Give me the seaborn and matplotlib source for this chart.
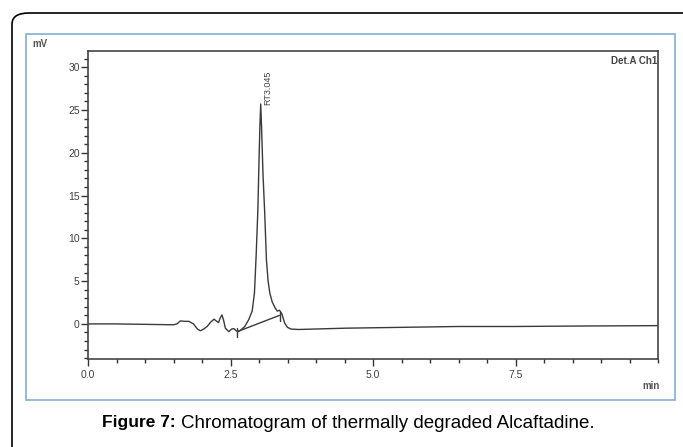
import pandas as pd
import matplotlib.pyplot as plt
import seaborn as sns
from matplotlib.patches import FancyBboxPatch, Rectangle
from matplotlib.ticker import MultipleLocator

# chromatogram trace (retention time in min, signal in mV)
rt_min = [0.0, 0.5, 1.0, 1.5, 1.56, 1.62, 1.70, 1.77, 1.85, 1.92, 1.97, 2.03, 2.09,
          2.15, 2.21, 2.26, 2.29, 2.32, 2.35, 2.38, 2.41, 2.47, 2.52, 2.56, 2.60,
          2.64, 2.70, 2.75, 2.82, 2.88, 2.92, 2.95, 2.98, 3.00, 3.015, 3.03, 3.045,
          3.07, 3.10, 3.13, 3.16, 3.19, 3.23, 3.28, 3.32, 3.36, 3.40, 3.45, 3.50,
          3.56, 3.70, 4.5, 5.5, 6.5, 7.5, 8.5, 10.0]
signal_mv = [0.0, 0.0, -0.05, -0.1, 0.0, 0.35, 0.3, 0.3, 0.0, -0.6, -0.8, -0.6, -0.3,
             0.2, 0.55, 0.3, 0.15, 0.7, 1.05, 0.4, -0.5, -0.9, -0.6, -0.55, -0.8,
             -0.9, -0.6, -0.3, 0.5, 1.5, 3.6, 8.0, 13.3, 19.0, 23.0, 25.7, 23.0,
             17.5, 13.0, 7.5, 5.0, 3.6, 2.6, 1.9, 1.5, 1.6, 1.2, 0.1, -0.4,
             -0.6, -0.65, -0.5, -0.4, -0.3, -0.3, -0.25, -0.2]

# integration baseline under the main peak
base_x = [2.62, 3.36]
base_y = [-0.9, 1.0]
peak_rt = 3.045
peak_label = "RT3.045"

x_ticks = [0.0, 2.5, 5.0, 7.5]
y_ticks = [0, 5, 10, 15, 20, 25, 30]

df = pd.DataFrame({"rt": rt_min, "mv": signal_mv})

sns.set_theme(style="white")
plt.rcParams['font.family'] = ['Liberation Sans', 'DejaVu Sans']

fig = plt.figure(figsize=(6.83, 4.47), dpi=100)
W, H = 683, 447

# outer rounded frame (cut off at right and bottom) and the light blue panel
fig.patches.append(FancyBboxPatch((12 / W, -0.2), 1.2, 1 - 13 / H + 0.2,
                                  boxstyle="round,pad=0,rounding_size=0.025",
                                  transform=fig.transFigure, fill=False,
                                  edgecolor='black', linewidth=1.2))
fig.patches.append(Rectangle((26 / W, 1 - 400 / H), (675 - 26) / W, (400 - 34) / H,
                             transform=fig.transFigure, fill=False,
                             edgecolor='#8fb4d8', linewidth=1.3))

ax = fig.add_axes([88 / W, 1 - 359 / H, (658 - 88) / W, (359 - 51) / H])
sns.lineplot(data=df, x="rt", y="mv", ax=ax, color='#3a3a3a', linewidth=1.0,
             estimator=None, sort=False)
ax.plot(base_x, base_y, color='#3a3a3a', linewidth=1.0)
for bx, by in zip(base_x, base_y):
    ax.plot([bx, bx], [by - 0.6, by + 0.4], color='#3a3a3a', linewidth=1.0)

ax.set_xlim(0, 10)
ax.set_ylim(-4.1, 31.9)
ax.set_xticks(x_ticks)
ax.set_yticks(y_ticks)
ax.set_xticklabels([f"{t:.1f}" for t in x_ticks])
ax.xaxis.set_minor_locator(MultipleLocator(0.5))
ax.yaxis.set_minor_locator(MultipleLocator(1))
ax.tick_params(which='major', direction='out', length=5, width=1, color='#333333',
               labelsize=7.5, labelcolor='#404040', pad=1, bottom=True, left=True)
ax.tick_params(which='minor', direction='out', length=3, width=1, color='#333333',
               bottom=True, left=True)
ax.tick_params(axis='x', which='major', pad=3)
ax.set_xlabel("")
ax.set_ylabel("")
for s in ax.spines.values():
    s.set_color('#444444')
    s.set_linewidth(1.2)

ax.text(peak_rt + 0.1, 25.6, peak_label, rotation=90, fontsize=6.5,
        color='#444444', ha='center', va='bottom')
ax.text(0.998, 0.985, "Det.A Ch1", transform=ax.transAxes, fontsize=7,
        color='#444444', ha='right', va='top', fontweight='bold')

fig.text(32 / W, 1 - 44 / H, "mV", fontsize=7, color='#555555', ha='left',
         va='center', fontweight='bold')
fig.text(660 / W, 1 - 386 / H, "min", fontsize=7, color='#555555', ha='right',
         va='center', fontweight='bold')

# caption: bold label followed by regular text
cap_bold = fig.text(102 / W, 1 - 423 / H, "Figure 7:", fontsize=12.5, fontweight='bold',
                    ha='left', va='center', color='black')
renderer = fig.canvas.get_renderer()
bb = cap_bold.get_window_extent(renderer=renderer)
fig.text((bb.x1 + 5) / W, 1 - 423 / H, "Chromatogram of thermally degraded Alcaftadine.",
         fontsize=13.5, ha='left', va='center', color='black')

fig.savefig("out.png", dpi=100, facecolor='white')
